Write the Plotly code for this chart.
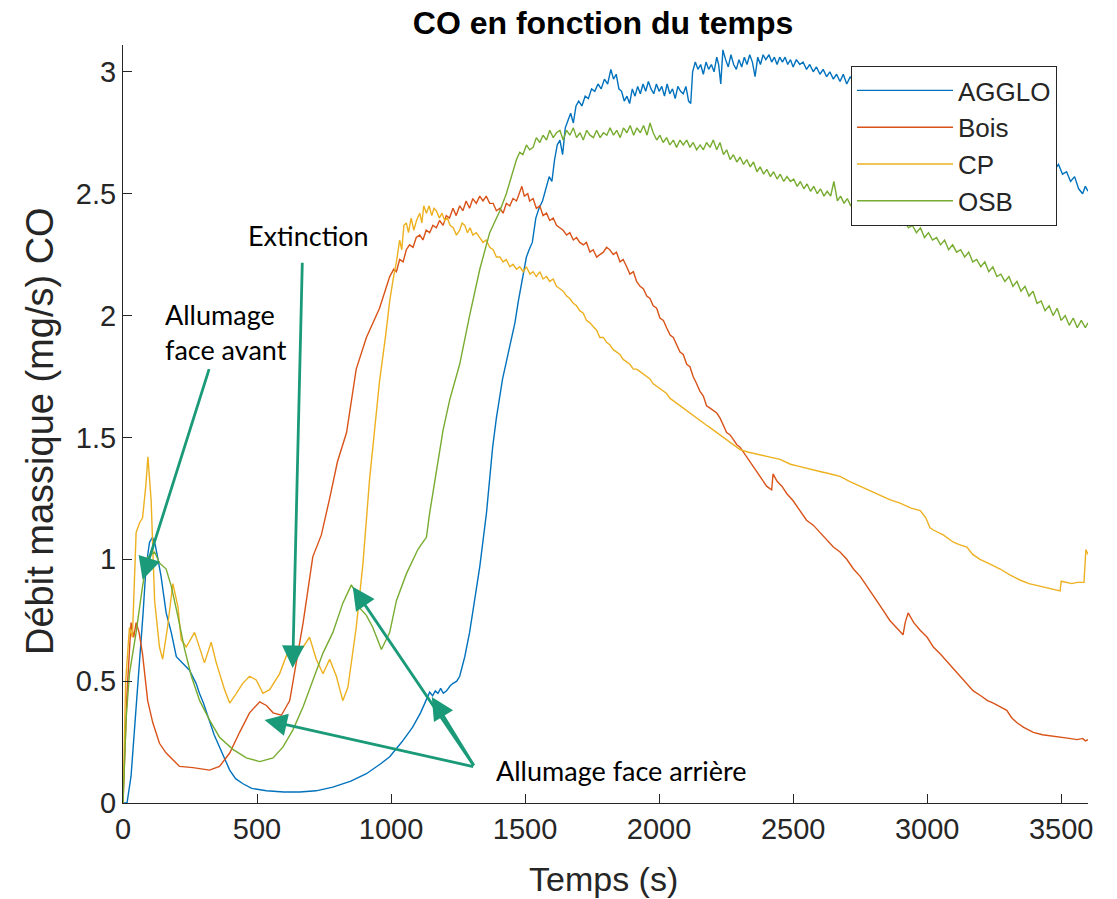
import plotly.graph_objects as go

# ---------------- data ----------------
t_agglo = [0, 15, 30, 45, 62, 75, 86, 99, 110, 120, 129, 142, 161, 180, 199, 222, 248, 273, 285, 300,
           323, 340, 360, 380, 398, 420, 446, 480, 535, 600, 659, 720, 783, 850, 908, 960, 995, 1040, 1080, 1110,
           1144, 1155, 1165, 1175, 1185, 1195, 1207, 1220, 1230, 1245, 1256, 1275, 1293, 1310, 1331, 1356, 1379,
           1393, 1405, 1416, 1428, 1440, 1450, 1462, 1475, 1485, 1495, 1505, 1515, 1527, 1540, 1552, 1565, 1577, 1590, 1600,
           1610, 1620, 1630, 1640, 1650, 1660, 1670, 1680, 1690, 1700, 1712, 1724, 1736, 1748, 1760, 1772, 1784, 1796, 1808, 1820,
           1830, 1840, 1850, 1860, 1870, 1880, 1890, 1900, 1910, 1920, 1930, 1940, 1950, 1960, 1970, 1980, 1990, 2000, 2010, 2020,
           2030, 2040, 2050, 2060, 2070, 2080, 2090, 2100, 2110, 2118, 2125, 2135, 2145, 2155, 2165, 2175, 2185, 2195, 2205, 2215,
           2222, 2230, 2238, 2248, 2258, 2268, 2278, 2288, 2298, 2308, 2318, 2328, 2338, 2348, 2358, 2368, 2378, 2388, 2398, 2410,
           2420, 2430, 2440, 2450, 2460, 2470, 2480, 2490, 2500, 2512, 2525, 2537, 2550, 2562, 2575, 2587, 2600, 2612, 2625, 2637,
           2650, 2662, 2675, 2687, 2700, 2713, 2725, 2800, 2900, 3000, 3100, 3200, 3300, 3400, 3430, 3445, 3460, 3475, 3490, 3505,
           3520, 3535, 3550, 3565, 3580, 3590, 3600]
v_agglo = [0, 0.0, 0.11, 0.33, 0.56, 0.78, 0.97, 1.07, 1.09, 1.06, 1.01, 0.93, 0.78, 0.70, 0.60, 0.575, 0.545, 0.49, 0.45, 0.41,
           0.34, 0.28, 0.23, 0.18, 0.135, 0.10, 0.08, 0.06, 0.05, 0.045, 0.045, 0.05, 0.065, 0.09, 0.12, 0.16, 0.19, 0.25, 0.31, 0.37,
           0.455, 0.44, 0.46, 0.45, 0.47, 0.45, 0.46, 0.48, 0.49, 0.50, 0.52, 0.60, 0.70, 0.82, 0.97, 1.19, 1.46,
           1.58, 1.66, 1.74, 1.80, 1.86, 1.92, 1.97, 2.06, 2.12, 2.17, 2.24, 2.27, 2.30, 2.40, 2.44, 2.47, 2.52, 2.57, 2.55,
           2.64, 2.70, 2.72, 2.66, 2.77, 2.80, 2.83, 2.79, 2.86, 2.88, 2.86, 2.90, 2.89, 2.93, 2.92, 2.95, 2.93, 2.97, 2.95, 3.01,
           2.97, 2.99, 2.93, 2.92, 2.88, 2.90, 2.87, 2.93, 2.90, 2.94, 2.91, 2.95, 2.92, 2.96, 2.93, 2.91, 2.95, 2.92, 2.94, 2.90,
           2.95, 2.91, 2.93, 2.89, 2.94, 2.92, 2.91, 2.94, 2.88, 2.87, 3.00, 3.04, 3.01, 3.03, 2.99, 3.04, 3.01, 3.03, 3.00, 3.06,
           3.03, 2.95, 3.09, 3.05, 3.02, 3.07, 3.03, 3.01, 3.05, 3.02, 3.06, 3.03, 3.07, 3.04, 2.98, 3.06, 3.03, 3.07, 3.05, 3.07,
           3.04, 3.06, 3.03, 3.06, 3.04, 3.06, 3.03, 3.05, 3.02, 3.05, 3.03, 3.04, 3.01, 3.03, 3.00, 3.02, 2.99, 3.01, 2.98, 3.00,
           2.97, 2.99, 2.96, 2.99, 2.95, 2.98, 2.96, 2.95, 2.91, 2.88, 2.84, 2.79, 2.73, 2.67, 2.64, 2.66, 2.62, 2.60, 2.62, 2.58,
           2.59, 2.55, 2.57, 2.52, 2.50, 2.53, 2.51]

t_bois = [0, 15, 30, 40, 49, 60, 73, 92, 111, 136, 161, 180, 211, 261, 323, 360, 398, 435, 472, 510,
          535, 560, 591, 622, 647, 672, 708, 740, 771, 800, 834, 870, 908, 957, 995, 1010, 1020, 1032, 1045, 1057,
          1069, 1082, 1094, 1107, 1119, 1131, 1144, 1156, 1169, 1181, 1194, 1206, 1218, 1231, 1243, 1256, 1268, 1280, 1293, 1305,
          1318, 1331, 1343, 1355, 1368, 1381, 1393, 1406, 1418, 1430, 1443, 1455, 1468, 1480, 1488, 1497, 1510, 1517, 1530, 1542,
          1555, 1567, 1580, 1592, 1605, 1617, 1630, 1642, 1655, 1667, 1680, 1692, 1704, 1717, 1729, 1742, 1754, 1767, 1779, 1792,
          1804, 1816, 1829, 1841, 1854, 1866, 1879, 1891, 1904, 1916, 1929, 1941, 1954, 1966, 1978, 1991, 2003, 2016, 2028, 2041,
          2053, 2066, 2078, 2090, 2103, 2115, 2127, 2140, 2152, 2165, 2177, 2190, 2202, 2215, 2227, 2240, 2252, 2265, 2277, 2290,
          2302, 2326, 2351, 2376, 2401, 2413, 2420, 2425, 2440, 2458, 2476, 2500, 2525, 2550, 2575, 2600, 2625, 2650, 2675, 2700,
          2725, 2750, 2775, 2800, 2820, 2836, 2860, 2886, 2900, 2910, 2918, 2929, 2950, 2973, 3000, 3023, 3050, 3075, 3098, 3125,
          3150, 3172, 3200, 3225, 3247, 3270, 3297, 3315, 3334, 3360, 3396, 3430, 3470, 3500, 3530, 3560, 3580, 3590, 3600]
v_bois = [0, 0.45, 0.74, 0.68, 0.74, 0.70, 0.61, 0.42, 0.33, 0.245, 0.205, 0.185, 0.15, 0.145, 0.135, 0.15, 0.205, 0.29, 0.37, 0.415,
          0.40, 0.37, 0.36, 0.42, 0.585, 0.74, 1.01, 1.10, 1.25, 1.40, 1.52, 1.78, 1.91, 2.03, 2.16, 2.19, 2.18, 2.23, 2.22, 2.27,
          2.29, 2.28, 2.32, 2.33, 2.31, 2.35, 2.34, 2.37, 2.36, 2.39, 2.37, 2.41, 2.40, 2.44, 2.41, 2.45, 2.43, 2.47, 2.44, 2.48,
          2.46, 2.49, 2.47, 2.49, 2.46, 2.46, 2.43, 2.44, 2.42, 2.46, 2.45, 2.48, 2.47, 2.51, 2.53, 2.49, 2.50, 2.47, 2.48, 2.44,
          2.45, 2.41, 2.42, 2.39, 2.40, 2.37, 2.36, 2.35, 2.33, 2.34, 2.31, 2.32, 2.30, 2.29, 2.30, 2.26, 2.27, 2.24, 2.25, 2.26,
          2.28, 2.27, 2.25, 2.26, 2.22, 2.23, 2.20, 2.17, 2.18, 2.14, 2.12, 2.11, 2.08, 2.07, 2.04, 2.03, 1.99, 1.98, 1.95, 1.92,
          1.91, 1.88, 1.85, 1.84, 1.80, 1.79, 1.75, 1.72, 1.69, 1.67, 1.63, 1.62, 1.61, 1.60, 1.58, 1.55, 1.52, 1.51, 1.49, 1.47,
          1.46, 1.42, 1.38, 1.34, 1.30, 1.29, 1.285, 1.35, 1.32, 1.30, 1.27, 1.24, 1.20, 1.16, 1.14, 1.11, 1.08, 1.05, 1.03, 1.00,
          0.96, 0.93, 0.89, 0.85, 0.82, 0.79, 0.75, 0.72, 0.70, 0.69, 0.74, 0.78, 0.74, 0.71, 0.68, 0.64, 0.61, 0.58, 0.55, 0.52,
          0.49, 0.46, 0.44, 0.42, 0.41, 0.395, 0.38, 0.35, 0.33, 0.31, 0.29, 0.28, 0.275, 0.27, 0.265, 0.26, 0.265, 0.255, 0.26]

t_cp = [0, 10, 24, 35, 49, 62, 73, 85, 93, 105, 118, 136, 148, 166, 186, 205, 217, 236, 267, 285,
        304, 329, 348, 379, 398, 423, 446, 472, 497, 522, 547, 584, 622, 647, 672, 696, 721, 746, 771, 796,
        820, 839, 870, 895, 920, 945, 957, 980, 995, 1008, 1020, 1032, 1040, 1048, 1057, 1065, 1075, 1085, 1095, 1107,
        1115, 1122, 1132, 1142, 1152, 1160, 1169, 1180, 1190, 1200, 1210, 1220, 1232, 1244, 1256, 1265, 1275, 1285, 1295, 1305,
        1318, 1331, 1343, 1355, 1368, 1381, 1393, 1406, 1418, 1430, 1443, 1455, 1468, 1480, 1493, 1505, 1518, 1530, 1542, 1555,
        1567, 1580, 1592, 1605, 1617, 1630, 1642, 1655, 1667, 1680, 1692, 1704, 1717, 1729, 1742, 1754, 1767, 1779, 1792, 1804,
        1816, 1829, 1841, 1854, 1866, 1879, 1891, 1904, 1916, 1929, 1941, 1954, 1966, 1978, 1991, 2003, 2015, 2028, 2041, 2053,
        2066, 2078, 2090, 2103, 2115, 2127, 2140, 2153, 2165, 2177, 2190, 2202, 2215, 2227, 2240, 2252, 2265, 2277, 2290, 2302,
        2330, 2376, 2410, 2451, 2490, 2526, 2560, 2600, 2640, 2675, 2710, 2750, 2790, 2824, 2860, 2899, 2940, 2974, 2995, 3010,
        3023, 3060, 3098, 3120, 3148, 3170, 3197, 3235, 3272, 3310, 3346, 3380, 3421, 3460, 3496, 3500, 3520, 3540, 3560, 3585,
        3592, 3600]
v_cp = [0, 0.50, 0.72, 0.68, 1.11, 1.15, 1.17, 1.30, 1.42, 1.24, 0.83, 0.64, 0.59, 0.72, 0.90, 0.805, 0.67, 0.64, 0.70, 0.64,
        0.575, 0.66, 0.575, 0.465, 0.41, 0.45, 0.49, 0.52, 0.505, 0.45, 0.465, 0.53, 0.64, 0.615, 0.64, 0.68, 0.59, 0.53, 0.59, 0.52,
        0.42, 0.475, 0.72, 0.98, 1.33, 1.60, 1.73, 1.92, 2.06, 2.15, 2.22, 2.31, 2.27, 2.37, 2.38, 2.34, 2.40, 2.35, 2.39, 2.42,
        2.38, 2.45, 2.42, 2.45, 2.41, 2.44, 2.43, 2.40, 2.42, 2.39, 2.40, 2.37, 2.36, 2.33, 2.35, 2.38, 2.37, 2.34, 2.36, 2.33,
        2.34, 2.32, 2.30, 2.31, 2.28, 2.27, 2.24, 2.24, 2.22, 2.23, 2.20, 2.21, 2.19, 2.20, 2.18, 2.20, 2.17, 2.18, 2.16, 2.18,
        2.15, 2.16, 2.14, 2.15, 2.12, 2.11, 2.10, 2.08, 2.07, 2.05, 2.04, 2.02, 2.01, 1.98, 1.97, 1.955, 1.94, 1.91, 1.91, 1.89,
        1.88, 1.86, 1.85, 1.84, 1.82, 1.81, 1.80, 1.78, 1.78, 1.77, 1.76, 1.75, 1.74, 1.72, 1.71, 1.70, 1.69, 1.68, 1.66, 1.65,
        1.64, 1.63, 1.62, 1.61, 1.60, 1.59, 1.58, 1.57, 1.56, 1.55, 1.54, 1.53, 1.52, 1.51, 1.50, 1.49, 1.48, 1.47, 1.46, 1.45,
        1.44, 1.43, 1.42, 1.41, 1.39, 1.38, 1.37, 1.36, 1.35, 1.34, 1.32, 1.30, 1.28, 1.26, 1.245, 1.23, 1.21, 1.20, 1.17, 1.13,
        1.12, 1.10, 1.07, 1.06, 1.05, 1.02, 1.00, 0.98, 0.96, 0.935, 0.915, 0.90, 0.89, 0.88, 0.87, 0.91, 0.905, 0.90, 0.905, 0.905,
        1.04, 1.02]

t_osb = [0, 12, 24, 49, 73, 93, 118, 136, 161, 180, 205, 230, 255, 286, 323, 360, 410, 460, 510, 560,
         597, 634, 672, 708, 746, 783, 820, 852, 870, 883, 908, 932, 964, 995, 1020, 1057, 1082, 1100, 1119, 1132,
         1144, 1169, 1194, 1219, 1256, 1293, 1331, 1368, 1406, 1430, 1455, 1468, 1480, 1492, 1505, 1517, 1530, 1542, 1555, 1567,
         1580, 1592, 1605, 1617, 1630, 1642, 1655, 1667, 1680, 1692, 1705, 1717, 1730, 1742, 1755, 1767, 1780, 1792, 1805, 1817,
         1830, 1842, 1855, 1867, 1880, 1892, 1905, 1917, 1930, 1942, 1955, 1966, 1978, 1991, 2003, 2015, 2028, 2040, 2053, 2065,
         2078, 2090, 2103, 2115, 2127, 2140, 2153, 2165, 2177, 2190, 2202, 2215, 2227, 2240, 2252, 2265, 2277, 2290, 2302, 2315,
         2327, 2340, 2352, 2365, 2377, 2390, 2402, 2415, 2427, 2440, 2452, 2465, 2477, 2490, 2502, 2515, 2527, 2540, 2552, 2565,
         2577, 2590, 2602, 2615, 2627, 2640, 2652, 2665, 2677, 2690, 2702, 2715, 2727, 2740, 2760, 2780, 2800, 2820, 2840, 2860,
         2880, 2900, 2915, 2930, 2945, 2960, 2975, 2990, 3005, 3020, 3035, 3050, 3065, 3080, 3095, 3110, 3125, 3140, 3155, 3170,
         3185, 3200, 3215, 3230, 3245, 3260, 3275, 3290, 3305, 3320, 3335, 3350, 3365, 3380, 3395, 3410, 3425, 3440, 3455, 3470,
         3485, 3500, 3515, 3530, 3545, 3560, 3575, 3590, 3600]
v_osb = [0, 0.35, 0.53, 0.70, 0.89, 1.01, 1.03, 0.985, 0.96, 0.89, 0.765, 0.63, 0.52, 0.42, 0.34, 0.27, 0.22, 0.185, 0.17, 0.185,
         0.23, 0.30, 0.395, 0.505, 0.615, 0.70, 0.82, 0.895, 0.86, 0.80, 0.77, 0.72, 0.63, 0.70, 0.83, 0.94, 1.00, 1.04, 1.07, 1.09,
         1.19, 1.37, 1.53, 1.655, 1.80, 2.00, 2.19, 2.34, 2.43, 2.50, 2.59, 2.64, 2.67, 2.66, 2.70, 2.68, 2.69, 2.73, 2.71, 2.74,
         2.72, 2.76, 2.73, 2.75, 2.76, 2.72, 2.76, 2.74, 2.77, 2.73, 2.75, 2.72, 2.76, 2.74, 2.73, 2.76, 2.73, 2.75, 2.74, 2.77,
         2.74, 2.76, 2.73, 2.77, 2.75, 2.78, 2.74, 2.77, 2.75, 2.78, 2.74, 2.79, 2.75, 2.72, 2.74, 2.71, 2.73, 2.70, 2.72, 2.69,
         2.72, 2.70, 2.72, 2.69, 2.71, 2.68, 2.70, 2.68, 2.71, 2.69, 2.72, 2.68, 2.71, 2.66, 2.68, 2.64, 2.66, 2.63, 2.65, 2.62,
         2.64, 2.61, 2.63, 2.59, 2.61, 2.58, 2.60, 2.57, 2.59, 2.56, 2.58, 2.55, 2.57, 2.55, 2.56, 2.53, 2.55, 2.52, 2.54, 2.51,
         2.53, 2.50, 2.52, 2.49, 2.51, 2.49, 2.55, 2.47, 2.49, 2.46, 2.48, 2.45, 2.47, 2.44, 2.45, 2.42, 2.43, 2.40, 2.42, 2.39,
         2.40, 2.37, 2.39, 2.36, 2.37, 2.34, 2.36, 2.32, 2.34, 2.31, 2.32, 2.29, 2.31, 2.27, 2.29, 2.26, 2.27, 2.24, 2.26, 2.22,
         2.23, 2.20, 2.22, 2.18, 2.20, 2.16, 2.17, 2.14, 2.16, 2.12, 2.14, 2.10, 2.12, 2.08, 2.10, 2.05, 2.06, 2.02, 2.04, 2.00,
         2.03, 1.98, 2.00, 1.96, 1.99, 1.95, 1.98, 1.95, 1.97]

series_names = ["AGGLO", "Bois", "CP", "OSB"]
series_colors = ["#0072BD", "#D95319", "#EDB120", "#77AC30"]

x_tickvals = [0, 500, 1000, 1500, 2000, 2500, 3000, 3500]
y_tickvals = [0, 0.5, 1, 1.5, 2, 2.5, 3]
y_ticktext = ["0", "0.5", "1", "1.5", "2", "2.5", "3"]

title_text = "CO en fonction du temps"
x_title = "Temps (s)"
y_title = "Débit massique (mg/s) CO"

# ---------------- figure ----------------
REG = "Liberation Sans, Arial, sans-serif"
NOTE = "Lato, Open Sans, sans-serif"
AX = "#262626"
ARROW = "#1a9a78"

fig = go.Figure()
for name, t, v, c in zip(series_names, [t_agglo, t_bois, t_cp, t_osb],
                         [v_agglo, v_bois, v_cp, v_osb], series_colors):
    fig.add_trace(go.Scatter(x=t, y=v, mode="lines", name=name, legendgroup=name,
                             line=dict(color=c, width=1.4)))

W, H = 1117, 899
L, R, T, B = 123, 29, 45, 96
pw, ph = W - L - R, H - T - B

fig.update_layout(
    width=W, height=H,
    margin=dict(l=L, r=R, t=T, b=B),
    paper_bgcolor="white", plot_bgcolor="white",
    title=dict(text="<b>" + title_text + "</b>", x=603 / W, xanchor="center",
               y=1 - 23 / H, yanchor="middle",
               font=dict(family=REG, size=32, color="black")),
    xaxis=dict(range=[0, 3600], tickvals=x_tickvals, ticks="inside", ticklen=9,
               tickcolor=AX, showline=True, linecolor=AX, linewidth=1,
               showgrid=False, zeroline=False,
               tickfont=dict(family=REG, size=29, color=AX)),
    yaxis=dict(range=[0, 3.11], tickvals=y_tickvals, ticktext=y_ticktext,
               ticks="inside", ticklen=9, tickcolor=AX, showline=True,
               linecolor=AX, linewidth=1, showgrid=False, zeroline=False,
               tickfont=dict(family=REG, size=29, color=AX)),
    legend=dict(x=(851 - L) / pw, y=(H - B - 66) / ph, xanchor="left", yanchor="top",
                bordercolor=AX, borderwidth=1, bgcolor="white",
                font=dict(family=REG, size=26, color=AX),
                tracegroupgap=0, itemwidth=96),
    showlegend=True,
)

annotations = [
    dict(text=x_title, xref="paper", yref="paper", x=(603 - L) / pw, y=-(879 - (H - B)) / ph,
         showarrow=False, xanchor="center", yanchor="middle",
         font=dict(family=REG, size=34, color=AX)),
    dict(text=y_title, xref="paper", yref="paper", x=(40 - L) / pw, y=(H - B - 431) / ph,
         showarrow=False, xanchor="center", yanchor="middle", textangle=-90,
         font=dict(family=REG, size=38, color=AX)),
    dict(text="Extinction", x=692, y=2.33, xref="x", yref="y", showarrow=False,
         font=dict(family=NOTE, size=27, color="black")),
    dict(text="Allumage<br>face avant", x=150, y=1.932, xref="x", yref="y", showarrow=False,
         xanchor="left", align="left", font=dict(family=NOTE, size=27, color="black")),
    dict(text="Allumage face arrière", x=1861, y=0.135, xref="x", yref="y", showarrow=False,
         font=dict(family=NOTE, size=27, color="black")),
]
arrows = [  # (tip x, tip y, tail x, tail y)
    (73, 0.916, 323, 1.786),
    (633, 0.554, 669, 2.223),
    (857, 0.887, 1312, 0.148),
    (528, 0.341, 1312, 0.148),
    (1152, 0.435, 1312, 0.148),
]
for tx, ty, sx, sy in arrows:
    annotations.append(dict(x=tx, y=ty, ax=sx, ay=sy, xref="x", yref="y", axref="x", ayref="y",
                            text="", showarrow=True, arrowhead=2, arrowsize=1.6,
                            arrowwidth=2.8, arrowcolor=ARROW, standoff=0))
fig.update_layout(annotations=annotations)

fig.write_html("out.html")
